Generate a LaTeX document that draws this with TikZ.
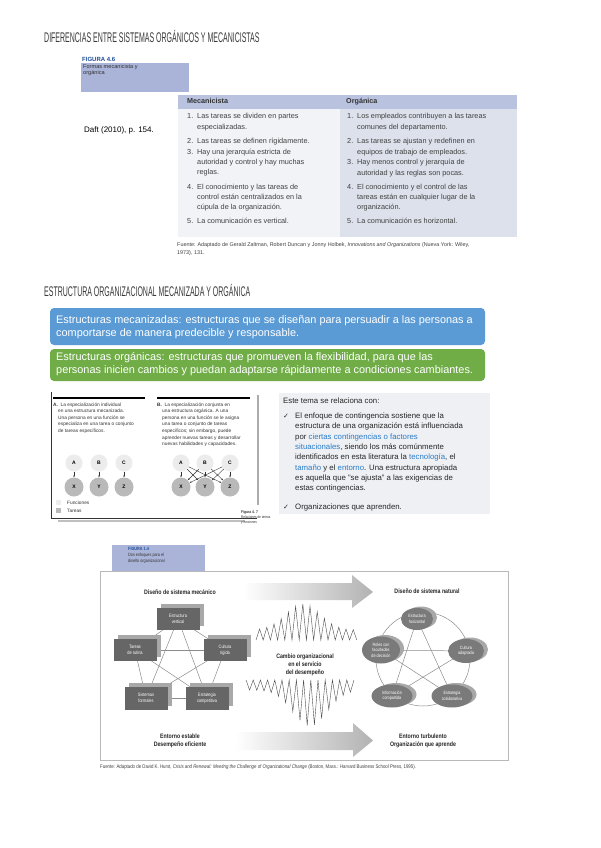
\documentclass[tikz,border=0pt]{standalone}
\usepackage{fontspec}
\setmainfont{Liberation Sans}
\newfontfamily\titlefont[FakeStretch=0.5]{Liberation Sans}
\newfontfamily\condfont[FakeStretch=0.82]{Liberation Sans}
\newfontfamily\dejavu{DejaVu Sans}
\usetikzlibrary{shapes.geometric,arrows.meta,calc}
\pgfdeclarelayer{background}
\pgfsetlayers{background,main}
\definecolor{figblue}{HTML}{A9B4D8}
\definecolor{hdrblue}{HTML}{B9C3DF}
\definecolor{colL}{HTML}{F1F3F7}
\definecolor{colR}{HTML}{DCE1EB}
\definecolor{figtxt}{HTML}{1F4E9A}
\definecolor{boxblue}{HTML}{5B9BD5}
\definecolor{boxgreen}{HTML}{70AD47}
\definecolor{panelbg}{HTML}{EEF0F4}
\definecolor{linkblue}{HTML}{2A7BC8}
\definecolor{mechbox}{HTML}{666666}
\definecolor{mechsh}{HTML}{A8A8A8}
\definecolor{natfill}{HTML}{7A7A7A}
\definecolor{txtgray}{HTML}{3A3A3A}
\begin{document}
\begin{tikzpicture}[x=1pt,y=-1pt,
  sectitle/.style={anchor=base west,inner sep=0,font=\titlefont\fontsize{14}{14}\selectfont,text=txtgray},
  tbl/.style={anchor=base west,inner sep=0,font=\fontsize{7.3}{8}\selectfont,text=black!75},
  tblhead/.style={anchor=base west,inner sep=0,font=\bfseries\fontsize{7.2}{8}\selectfont,text=black!80},
  tinytxt/.style={anchor=base west,inner sep=0,font=\fontsize{4.8}{5}\selectfont,text=black!80},
  ptxt/.style={anchor=base west,inner sep=0,font=\fontsize{7.8}{9}\selectfont,text=black!85},
  btxt/.style={anchor=base west,inner sep=0,font=\fontsize{10.9}{12}\selectfont,text=white},
  fn/.style={circle,fill=gray!15,minimum size=17pt,inner sep=0,font=\bfseries\fontsize{5}{5}\selectfont},
  ta/.style={circle,fill=gray!55,minimum size=19pt,inner sep=0,font=\bfseries\fontsize{5}{5}\selectfont},
  arr/.style={-{Stealth[length=2pt,width=1.6pt]},line width=0.4pt,black!80},
  mech/.style={rectangle,fill=mechbox,text=white,minimum width=43pt,minimum height=22pt,inner sep=0,align=center,font=\condfont\fontsize{4.8}{5.8}\selectfont},
  mechshadow/.style={rectangle,fill=mechsh,minimum width=43pt,minimum height=22pt,inner sep=0},
  nat/.style={ellipse,fill=natfill,text=white,inner sep=0,align=center,font=\condfont\fontsize{4.6}{5.4}\selectfont},
  natshadow/.style={ellipse,fill=mechsh,inner sep=0},
  link/.style={black!45,line width=0.5pt},
  hd/.style={inner sep=0,align=center,font=\condfont\bfseries\fontsize{6.4}{8}\selectfont,text=black!85},
  zz/.style={black!70,line width=0.4pt},
  smalltxt/.style={anchor=base west,inner sep=0,font=\fontsize{5.4}{5.8}\selectfont,text=black!75},
]
\useasboundingbox (0,0) rectangle (600,848);
\begin{pgfonlayer}{background}
\fill[white] (0,0) rectangle (600,848);
\end{pgfonlayer}

% ---------- Section 1 ----------
\node[sectitle] (t1) at (44,43) {DIFERENCIAS ENTRE SISTEMAS ORGÁNICOS Y MECANICISTAS};
\node[anchor=base west,inner sep=0,font=\bfseries\fontsize{6}{6}\selectfont,text=figtxt] (f46) at (82,62) {FIGURA 4.6};
\fill[figblue] (81,63) rectangle (189,92);
\node[anchor=base west,inner sep=0,font=\fontsize{5.6}{6}\selectfont,text=black!80] (f46a) at (83,69) {Formas mecanicista y};
\node[anchor=base west,inner sep=0,font=\fontsize{5.6}{6}\selectfont,text=black!80] (f46b) at (83,75) {orgánica};

\fill[hdrblue] (178,95) rectangle (517,109);
\fill[colL] (178,109) rectangle (340,237);
\fill[colR] (340,109) rectangle (517,237);
\node[tblhead] (hm) at (187,104) {Mecanicista};
\node[tblhead] (ho) at (346,104) {Orgánica};

\foreach \yy/\nn [count=\i] in {119/1., 143/2., 154/3., 189/4., 223/5.}
  \node[tbl,name=ln\i] at (187,\yy) {\nn};
\foreach \yy/\tt [count=\i] in {119/{Las tareas se dividen en partes},129/{especializadas.},143/{Las tareas se definen rígidamente.},154/{Hay una jerarquía estricta de},164/{autoridad y control y hay muchas},174/{reglas.},189/{El conocimiento y las tareas de},199/{control están centralizados en la},209/{cúpula de la organización.},223/{La comunicación es vertical.}}
  \node[tbl,name=lt\i] at (197,\yy) {\tt};
\foreach \yy/\nn [count=\i] in {119/1., 143/2., 164/3., 189/4., 223/5.}
  \node[tbl,name=rn\i] at (347,\yy) {\nn};
\foreach \yy/\tt [count=\i] in {119/{Los empleados contribuyen a las tareas},129/{comunes del departamento.},143/{Las tareas se ajustan y redefinen en},154/{equipos de trabajo de empleados.},164/{Hay menos control y jerarquía de},175/{autoridad y las reglas son pocas.},189/{El conocimiento y el control de las},199/{tareas están en cualquier lugar de la},209/{organización.},223/{La comunicación es horizontal.}}
  \node[tbl,name=rt\i] at (357,\yy) {\tt};

\node[smalltxt] (fu1) at (177,246) {Fuente: Adaptado de Gerald Zaltman, Robert Duncan y Jonny Holbek, \textit{Innovations and Organizations} (Nueva York: Wiley,};
\node[smalltxt] (fu2) at (177,254) {1973), 131.};
\node[anchor=base west,inner sep=0,font=\fontsize{8}{8}\selectfont] (daft) at (84,132) {Daft (2010), p. 154.};

% ---------- Section 2 ----------
\node[sectitle] (t2) at (44,296) {ESTRUCTURA ORGANIZACIONAL MECANIZADA Y ORGÁNICA};
\fill[boxblue,rounded corners=4pt] (50,308) rectangle (485,345);
\node[btxt] (b1) at (56,323.5) {Estructuras mecanizadas: estructuras que se diseñan para persuadir a las personas a};
\node[btxt] (b2) at (56,336.5) {comportarse de manera predecible y responsable.};
\fill[boxgreen,rounded corners=4pt] (50,349) rectangle (485,381);
\node[btxt] (g1) at (56,360.5) {Estructuras orgánicas: estructuras que promueven la flexibilidad, para que las};
\node[btxt] (g2) at (56,373.5) {personas inicien cambios y puedan adaptarse rápidamente a condiciones cambiantes.};

% ---------- Figure 4.7 panel ----------
\draw[black!80,line width=0.5pt] (51,392) -- (51,518) -- (257,518);
\draw[gray!50,line width=2pt] (58,521) -- (245,521);
\draw[gray!65,line width=2.5pt] (258,395) -- (258,505);
\draw[black,line width=2pt] (53,398) -- (145,398);
\draw[black,line width=2pt] (157,398) -- (250,398);

\foreach \yy/\tt [count=\i] in {406/{\textbf{A.}\ \ La especialización individual},412.6/{\hspace{5pt}en una estructura mecanizada.},419.2/{\hspace{5pt}Una persona en una función se},425.8/{\hspace{5pt}especializa en una tarea o conjunto},432.4/{\hspace{5pt}de tareas específicos.}}
  \node[tinytxt,name=ta\i] at (53,\yy) {\tt};
\foreach \yy/\tt [count=\i] in {406/{\textbf{B.}\ \ La especialización conjunta en},412.6/{\hspace{5pt}una estructura orgánica. A una},419.2/{\hspace{5pt}persona en una función se le asigna},425.8/{\hspace{5pt}una tarea o conjunto de tareas},432.4/{\hspace{5pt}específicos; sin embargo, puede},439/{\hspace{5pt}aprender nuevas tareas y desarrollar},445.6/{\hspace{5pt}nuevas habilidades y capacidades.}}
  \node[tinytxt,name=tb\i] at (157,\yy) {\tt};

\node[fn] (fa) at (74,463) {A};
\node[fn] (fb) at (99,463) {B};
\node[fn] (fc) at (124,463) {C};
\node[ta] (fx) at (74,487) {X};
\node[ta] (fy) at (99,487) {Y};
\node[ta] (fz) at (124,487) {Z};
\draw[arr] (fa) -- (fx);
\draw[arr] (fb) -- (fy);
\draw[arr] (fc) -- (fz);

\node[fn] (ga) at (181,463) {A};
\node[fn] (gb) at (205,463) {B};
\node[fn] (gc) at (230,463) {C};
\node[ta] (gx) at (181,487) {X};
\node[ta] (gy) at (205,487) {Y};
\node[ta] (gz) at (230,487) {Z};
\foreach \s in {ga,gb,gc}
  \foreach \t in {gx,gy,gz}
    \draw[arr] (\s) -- (\t);

\fill[gray!15] (56,500) rectangle (61,505);
\node[tinytxt] (lf) at (67,504.5) {Funciones};
\fill[gray!55] (56,508) rectangle (61,513);
\node[tinytxt] (lt) at (67,512.5) {Tareas};
\node[tinytxt,font=\condfont\bfseries\fontsize{4}{4}\selectfont] (c47a) at (241,513) {Figura 4. 7};
\node[tinytxt,font=\condfont\fontsize{3.8}{4}\selectfont] (c47b) at (241,518) {Relaciones de tareas};
\node[tinytxt,font=\condfont\fontsize{3.8}{4}\selectfont] (c47c) at (241,523) {y funciones};

% ---------- Right panel ----------
\fill[panelbg] (279,393) rectangle (490,514);
\node[ptxt] (pt) at (283,403.5) {Este tema se relaciona con:};
\node[ptxt,font=\dejavu\fontsize{7}{8}\selectfont] (ck1) at (283,418.5) {✓};
\node[ptxt,font=\dejavu\fontsize{7}{8}\selectfont] (ck2) at (283,509) {✓};
\foreach \yy/\tt [count=\i] in {418.5/{El enfoque de contingencia sostiene que la},428.8/{estructura de una organización está influenciada},439.1/{por \textcolor{linkblue}{ciertas contingencias o factores}},449.4/{\textcolor{linkblue}{situacionales}, siendo los más comúnmente},459.7/{identificados en esta literatura la \textcolor{linkblue}{tecnología}, el},470/{\textcolor{linkblue}{tamaño} y el \textcolor{linkblue}{entorno}. Una estructura apropiada},480.3/{es aquella que "se ajusta" a las exigencias de},490.6/{estas contingencias.},509/{Organizaciones que aprenden.}}
  \node[ptxt,name=pl\i] at (295,\yy) {\tt};

% ---------- Figure 1.4 ----------
\fill[figblue] (112,545) rectangle (205,571);
\node[anchor=base west,inner sep=0,font=\condfont\bfseries\fontsize{4.6}{5}\selectfont,text=figtxt] (f14) at (128,550) {FIGURA 1.4};
\node[anchor=base west,inner sep=0,font=\condfont\fontsize{4.6}{5}\selectfont,text=black!80] (f14a) at (128,556.5) {Dos enfoques para el};
\node[anchor=base west,inner sep=0,font=\condfont\fontsize{4.6}{5}\selectfont,text=black!80] (f14b) at (128,562.5) {diseño organizacional};
\draw[gray!55,line width=0.8pt] (100,571) rectangle (508,760);

\shade[left color=white,right color=gray!60] (243,583) -- (352,583) -- (352,575) -- (373,592) -- (352,608) -- (352,600) -- (243,600) -- cycle;
\shade[left color=white,right color=gray!60] (235,732) -- (353,732) -- (353,723) -- (373,740.5) -- (353,757) -- (353,750) -- (235,750) -- cycle;

\node[hd] (hmec) at (180,592) {Diseño de sistema mecánico};
\node[hd] (hnat) at (427,591) {Diseño de sistema natural};
\node[hd] (cambio) at (305,665) {Cambio organizacional\\en el servicio\\del desempeño};
\node[hd] (est) at (180,741) {Entorno estable\\Desempeño eficiente};
\node[hd] (tur) at (423,741) {Entorno turbulento\\Organización que aprende};

\draw[zz] (256,640) \foreach \i in {1,...,28}{ -- ({256+3.6*\i},{640-mod(\i,2)*(10+26*exp(-1*(((256+3.6*\i-303)/24)^2)))}) };
\draw[zz] (246,680) \foreach \i in {1,...,30}{ -- ({246+3.6*\i},{680+mod(\i,2)*(10+36*exp(-1*(((246+3.6*\i-310)/24)^2)))}) };

% mechanical (shadows offset up-right)
\node[mechshadow] (evs) at (182,615) {};
\node[mechshadow] (trs) at (139,646) {};
\node[mechshadow] (crs) at (229,646) {};
\node[mechshadow,minimum height=23pt] (sfs) at (150,694) {};
\node[mechshadow,minimum height=23pt] (ecs) at (211,694) {};
\node[mech] (ev) at (178,619) {Estructura\\vertical};
\node[mech] (tr) at (135,650) {Tareas\\de rutina};
\node[mech] (cr) at (225,650) {Cultura\\rígida};
\node[mech,minimum height=23pt] (sf) at (146,698) {Sistemas\\formales};
\node[mech,minimum height=23pt] (ec) at (207,698) {Estrategia\\competitiva};
\begin{pgfonlayer}{background}
\foreach \a/\b in {ev/tr,ev/cr,ev/sf,ev/ec,tr/cr,tr/sf,tr/ec,cr/sf,cr/ec,sf/ec}
  \draw[link] (\a.center) -- (\b.center);
\end{pgfonlayer}

% natural (shadows offset right)
\coordinate (cc) at (423,659);
\draw[link] (cc) circle (47);
\node[natshadow,minimum width=32pt,minimum height=22pt] (ehs) at (421,617.5) {};
\node[natshadow,minimum width=38pt,minimum height=27pt] (rfs) at (385,648.5) {};
\node[natshadow,minimum width=36pt,minimum height=24pt] (cas) at (470,649.5) {};
\node[natshadow,minimum width=41pt,minimum height=23pt] (ics) at (396,694.5) {};
\node[natshadow,minimum width=41pt,minimum height=23pt] (ecols) at (456,694.5) {};
\node[nat,minimum width=32pt,minimum height=22pt] (eh) at (417,619) {Estructura\\horizontal};
\node[nat,minimum width=38pt,minimum height=27pt] (rf) at (381,650) {Roles con\\facultades\\de decisión};
\node[nat,minimum width=36pt,minimum height=24pt] (ca) at (466,651) {Cultura\\adaptada};
\node[nat,minimum width=41pt,minimum height=23pt] (ic) at (392,696) {Información\\compartida};
\node[nat,minimum width=41pt,minimum height=23pt] (ecol) at (452,696) {Estrategia\\colaborativa};
\begin{pgfonlayer}{background}
\foreach \a/\b in {eh/ic,eh/ecol,rf/ca,rf/ecol,ca/ic}
  \draw[link] (\a.center) -- (\b.center);
\end{pgfonlayer}

\node[anchor=base west,inner sep=0,font=\condfont\fontsize{5.3}{5.5}\selectfont,text=black!75] (fu14) at (100,768) {Fuente: Adaptado de David K. Hurst, \textit{Crisis and Renewal: Meeting the Challenge of Organizational Change} (Boston, Mass.: Harvard Business School Press, 1995).};
\end{tikzpicture}
\end{document}
